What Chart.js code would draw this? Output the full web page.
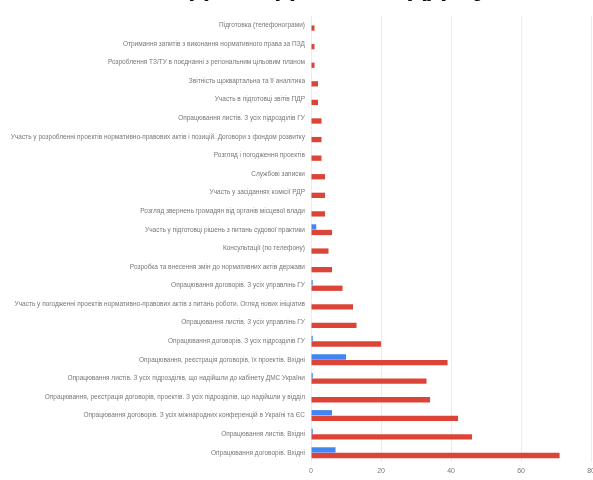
<!DOCTYPE html>
<html>
<head>
<meta charset="utf-8">
<script src="https://cdn.jsdelivr.net/npm/chart.js@4"></script>
<style>
  html, body { margin: 0; padding: 0; background: #fff; overflow: hidden; width: 593px; height: 480px; }
  #wrap { position: absolute; left: 0; top: -31px; width: 600px; height: 511px; }
</style>
</head>
<body>
<div id="wrap"><canvas id="chart" width="600" height="511"></canvas></div>
<script>
// назви задач (вісь Y)
const categories = [
  'Підготовка (телефонограми)',
  'Отримання запитів з виконання нормативного права за ПЗД',
  'Розроблення ТЗ/ТУ в поєднанні з регіональним цільовим планом',
  'Звітність щоквартальна та її аналітика',
  'Участь в підготовці звітів ПДР',
  'Опрацювання листів. З усіх підрозділів ГУ',
  'Участь у розробленні проектів нормативно-правових актів і позицій. Договори з фондом розвитку',
  'Розгляд і погодження проектів',
  'Службові записки',
  'Участь у засіданнях комісії РДР',
  'Розгляд звернень громадян від органів місцевої влади',
  'Участь у підготовці рішень з питань судової практики',
  'Консультації (по телефону)',
  'Розробка та внесення змін до нормативних актів держави',
  'Опрацювання договорів. З усіх управлінь ГУ',
  'Участь у погодженні проектів нормативно-правових актів з питань роботи. Огляд нових ініціатив',
  'Опрацювання листів. З усіх управлінь ГУ',
  'Опрацювання договорів. З усіх підрозділів ГУ',
  'Опрацювання, реєстрація договорів, їх проектів. Вхідні',
  'Опрацювання листів. З усіх підрозділів, що надійшли до кабінету ДМС України',
  'Опрацювання, реєстрація договорів, проектів. З усіх підрозділів, що надійшли у відділ',
  'Опрацювання договорів. З усіх міжнародних конференцій в Україні та ЄС',
  'Опрацювання листів. Вхідні',
  'Опрацювання договорів. Вхідні'
];

// синя серія
const overdue = [0, 0, 0, 0, 0, 0, 0, 0, 0, 0, 0, 1.5, 0, 0, 0.5, 0, 0, 0.5, 10, 0.5, 0, 6, 0.5, 7];
// червона серія
const total = [1, 1, 1, 2, 2, 3, 3, 3, 4, 4, 4, 6, 5, 6, 9, 12, 13, 20, 39, 33, 34, 42, 46, 71];

const xTicks = [0, 20, 40, 60, 80];

const ctx = document.getElementById('chart').getContext('2d');
new Chart(ctx, {
  type: 'bar',
  data: {
    labels: categories,
    datasets: [
      {
        label: 'Прострочено',
        data: overdue,
        backgroundColor: '#4285f4',
        categoryPercentage: 0.6,
        barPercentage: 0.95
      },
      {
        label: 'Всього',
        data: total,
        backgroundColor: '#db4437',
        categoryPercentage: 0.6,
        barPercentage: 0.95
      }
    ]
  },
  options: {
    indexAxis: 'y',
    responsive: false,
    animation: false,
    devicePixelRatio: 1,
    layout: { padding: { left: 0, right: 8.5, top: 0, bottom: 0 } },
    plugins: {
      legend: { display: false },
      tooltip: { enabled: false },
      title: {
        display: true,
        text: 'Розподіл задач по відділу',
        color: '#111',
        font: { family: 'Liberation Sans', size: 30, weight: 'bold' },
        padding: { top: 0, bottom: 11 }
      }
    },
    scales: {
      x: {
        min: 0,
        max: 80,
        afterBuildTicks: (s) => { s.ticks = xTicks.map(v => ({ value: v })); },
        afterFit: (s) => { s.height = 18; },
        ticks: {
          color: '#777',
          padding: 5,
          font: { family: 'Liberation Sans', size: 7 }
        },
        grid: { color: '#ececec', drawTicks: false },
        border: { display: false }
      },
      y: {
        afterFit: (s) => { s.width = 311; },
        ticks: {
          autoSkip: false,
          color: '#777',
          padding: 6,
          font: { family: 'Liberation Sans', size: 6.5 }
        },
        grid: { display: false, drawTicks: false },
        border: { display: false }
      }
    }
  }
});
</script>
</body>
</html>
